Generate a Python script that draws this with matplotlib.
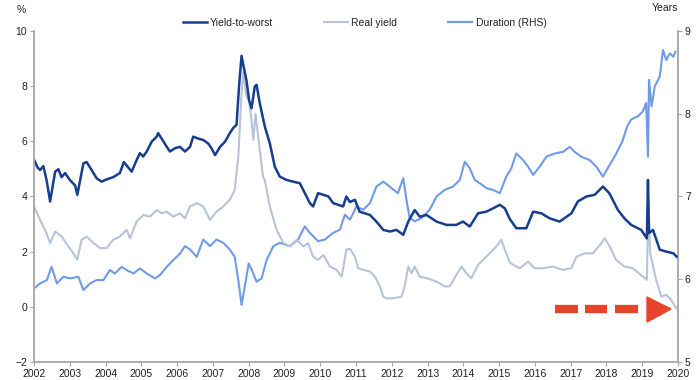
import matplotlib
matplotlib.use("Agg")
import matplotlib.pyplot as plt
from matplotlib.patches import Polygon

plt.rcParams['font.family'] = ['Liberation Sans', 'DejaVu Sans']

# Yield-to-worst (%, LHS)
ytw_t = [2002.0, 2002.1, 2002.17, 2002.26, 2002.35, 2002.45, 2002.59, 2002.68, 2002.77, 2002.87,
         2003.0, 2003.15, 2003.21, 2003.38, 2003.47, 2003.61, 2003.75, 2003.89, 2004.03, 2004.21,
         2004.4, 2004.51, 2004.63, 2004.73, 2004.87, 2004.96, 2005.05, 2005.15, 2005.29, 2005.43,
         2005.47, 2005.62, 2005.71, 2005.8, 2005.94, 2006.08, 2006.22, 2006.36, 2006.45, 2006.59,
         2006.73, 2006.87, 2006.96, 2007.06, 2007.2, 2007.34, 2007.47, 2007.56, 2007.66, 2007.73,
         2007.8, 2007.86, 2007.94, 2008.01, 2008.08, 2008.17, 2008.22, 2008.31, 2008.45, 2008.59,
         2008.73, 2008.87, 2009.06, 2009.24, 2009.43, 2009.57, 2009.71, 2009.8, 2009.94, 2010.09,
         2010.23, 2010.36, 2010.5, 2010.64, 2010.73, 2010.83, 2010.97, 2011.1, 2011.39, 2011.57,
         2011.76, 2011.95, 2012.13, 2012.32, 2012.46, 2012.64, 2012.78, 2012.97, 2013.25, 2013.53,
         2013.8, 2013.99, 2014.18, 2014.41, 2014.64, 2014.83, 2015.02, 2015.16, 2015.3, 2015.48,
         2015.76, 2015.95, 2016.18, 2016.41, 2016.69, 2017.02, 2017.2, 2017.44, 2017.67, 2017.9,
         2018.08, 2018.32, 2018.5, 2018.69, 2018.97, 2019.13, 2019.16, 2019.19, 2019.3, 2019.49,
         2019.68, 2019.87, 2019.96]
ytw = [5.33, 5.05, 4.96, 5.1, 4.6, 3.82, 4.9, 4.99, 4.7, 4.85,
       4.6, 4.4, 4.06, 5.2, 5.25, 4.96, 4.66, 4.54, 4.62, 4.7,
       4.85, 5.25, 5.06, 4.9, 5.33, 5.57, 5.45, 5.63, 5.99, 6.17,
       6.3, 5.99, 5.8, 5.63, 5.75, 5.8, 5.63, 5.8, 6.17, 6.1,
       6.05, 5.92, 5.75, 5.5, 5.8, 5.99, 6.29, 6.47, 6.6, 7.99,
       9.1, 8.7, 8.2, 7.5, 7.2, 7.99, 8.05, 7.38, 6.54, 5.93,
       5.08, 4.72, 4.6, 4.54, 4.48, 4.12, 3.76, 3.64, 4.12, 4.06,
       4.0, 3.76, 3.7, 3.64, 4.0, 3.8, 3.88, 3.45, 3.33, 3.09,
       2.79, 2.73, 2.79, 2.61, 3.09, 3.51, 3.27, 3.33, 3.09, 2.97,
       2.97, 3.09, 2.91, 3.39, 3.45, 3.57, 3.7, 3.57, 3.18, 2.85,
       2.85, 3.45, 3.39, 3.21, 3.09, 3.39, 3.82, 4.0, 4.06, 4.36,
       4.12, 3.51, 3.21, 2.97, 2.79, 2.48, 4.6, 2.67, 2.79, 2.07,
       2.0, 1.94, 1.82]

# Real yield (%, LHS)
ry_t = [2002.0, 2002.17, 2002.31, 2002.45, 2002.59, 2002.77, 2002.96, 2003.1, 2003.21, 2003.33,
        2003.47, 2003.66, 2003.85, 2004.03, 2004.21, 2004.4, 2004.59, 2004.68, 2004.87, 2005.06,
        2005.24, 2005.43, 2005.57, 2005.71, 2005.89, 2006.08, 2006.22, 2006.36, 2006.55, 2006.73,
        2006.92, 2007.1, 2007.29, 2007.47, 2007.61, 2007.71, 2007.8, 2007.85, 2007.94, 2008.0,
        2008.06, 2008.13, 2008.19, 2008.31, 2008.4, 2008.45, 2008.59, 2008.78, 2008.97, 2009.15,
        2009.34, 2009.53, 2009.66, 2009.8, 2009.94, 2010.09, 2010.27, 2010.46, 2010.6, 2010.73,
        2010.83, 2010.97, 2011.06, 2011.2, 2011.39, 2011.53, 2011.67, 2011.76, 2011.85, 2012.04,
        2012.27, 2012.36, 2012.46, 2012.55, 2012.64, 2012.78, 2013.01, 2013.25, 2013.48, 2013.62,
        2013.8, 2013.95, 2014.08, 2014.22, 2014.41, 2014.55, 2014.74, 2014.92, 2015.06, 2015.16,
        2015.3, 2015.48, 2015.58, 2015.81, 2015.99, 2016.22, 2016.5, 2016.78, 2017.02, 2017.16,
        2017.39, 2017.62, 2017.86, 2017.95, 2018.09, 2018.27, 2018.5, 2018.73, 2018.97, 2019.13,
        2019.17, 2019.22, 2019.39, 2019.53, 2019.67, 2019.81, 2019.95]
ry = [3.64, 3.15, 2.79, 2.31, 2.73, 2.55, 2.19, 1.94, 1.7, 2.43,
      2.55, 2.31, 2.13, 2.13, 2.43, 2.55, 2.79, 2.49, 3.09, 3.33,
      3.27, 3.51, 3.39, 3.45, 3.27, 3.39, 3.21, 3.64, 3.76, 3.64,
      3.15, 3.45, 3.64, 3.88, 4.24, 5.45, 7.74, 8.5, 7.62, 7.5,
      7.0, 6.05, 7.0, 5.69, 4.72, 4.6, 3.64, 2.79, 2.31, 2.19,
      2.43, 2.19, 2.31, 1.82, 1.7, 1.88, 1.46, 1.34, 1.09, 2.07,
      2.1, 1.82, 1.4, 1.34, 1.28, 1.09, 0.74, 0.37, 0.31, 0.31,
      0.37, 0.74, 1.46, 1.22, 1.46, 1.09, 1.03, 0.91, 0.74, 0.74,
      1.15, 1.46, 1.22, 1.03, 1.52, 1.7, 1.94, 2.19, 2.43, 2.07,
      1.6, 1.46, 1.4, 1.64, 1.4, 1.4, 1.46, 1.34, 1.4, 1.82,
      1.94, 1.94, 2.31, 2.49, 2.19, 1.7, 1.46, 1.4, 1.15, 0.98,
      3.88, 1.94, 0.97, 0.37, 0.43, 0.25, -0.05]

# Duration (years, RHS)
dur_t = [2002.0, 2002.17, 2002.36, 2002.49, 2002.64, 2002.82, 2003.0, 2003.24, 2003.38, 2003.57,
         2003.75, 2003.94, 2004.12, 2004.26, 2004.45, 2004.59, 2004.78, 2004.96, 2005.15, 2005.38,
         2005.52, 2005.71, 2005.89, 2006.08, 2006.22, 2006.36, 2006.55, 2006.73, 2006.92, 2007.1,
         2007.29, 2007.47, 2007.61, 2007.71, 2007.8, 2007.89, 2008.0, 2008.09, 2008.22, 2008.36,
         2008.5, 2008.69, 2008.87, 2009.15, 2009.38, 2009.57, 2009.71, 2009.94, 2010.13, 2010.36,
         2010.55, 2010.69, 2010.83, 2010.97, 2011.01, 2011.2, 2011.39, 2011.57, 2011.76, 2011.94,
         2012.17, 2012.32, 2012.41, 2012.5, 2012.64, 2012.83, 2013.06, 2013.25, 2013.48, 2013.71,
         2013.9, 2014.04, 2014.18, 2014.32, 2014.46, 2014.65, 2014.83, 2015.02, 2015.2, 2015.34,
         2015.48, 2015.67, 2015.81, 2015.95, 2016.13, 2016.32, 2016.55, 2016.79, 2016.97, 2017.11,
         2017.3, 2017.53, 2017.72, 2017.9, 2018.06, 2018.25, 2018.44, 2018.58, 2018.69, 2018.88,
         2019.02, 2019.11, 2019.16, 2019.19, 2019.26, 2019.35, 2019.49, 2019.58, 2019.67, 2019.77,
         2019.87, 2019.93]
dur = [5.89, 5.95, 5.99, 6.15, 5.95, 6.03, 6.01, 6.03, 5.87, 5.95,
       5.99, 5.99, 6.11, 6.07, 6.15, 6.11, 6.07, 6.13, 6.07, 6.01,
       6.05, 6.15, 6.23, 6.31, 6.40, 6.36, 6.27, 6.48, 6.40, 6.48,
       6.44, 6.36, 6.27, 5.99, 5.69, 5.91, 6.19, 6.11, 5.97, 6.01,
       6.23, 6.40, 6.44, 6.40, 6.48, 6.64, 6.56, 6.46, 6.48, 6.56,
       6.60, 6.78, 6.72, 6.84, 6.88, 6.84, 6.92, 7.12, 7.18, 7.12,
       7.04, 7.22, 6.96, 6.74, 6.70, 6.74, 6.84, 7.00, 7.08, 7.12,
       7.20, 7.42, 7.34, 7.20, 7.16, 7.10, 7.08, 7.04, 7.24, 7.34,
       7.52, 7.44, 7.36, 7.26, 7.36, 7.48, 7.52, 7.54, 7.60, 7.54,
       7.48, 7.44, 7.36, 7.24, 7.36, 7.50, 7.66, 7.85, 7.93, 7.97,
       8.03, 8.13, 7.48, 8.41, 8.09, 8.33, 8.45, 8.77, 8.65, 8.73,
       8.69, 8.75]

years = list(range(2002, 2021))
labels = ["Yield-to-worst", "Real yield", "Duration (RHS)"]
colors = ["#163e8c", "#b8c3da", "#6f9be6"]
axis_grey = "#a6a6a6"

fig = plt.figure(figsize=(7.0, 3.8), dpi=100)
ax = fig.add_axes([0.0486, 0.0474, 0.92, 0.871])
ax2 = ax.twinx()

l2, = ax.plot(ry_t, ry, color=colors[1], lw=1.5, label=labels[1])
l1, = ax.plot(ytw_t, ytw, color=colors[0], lw=1.8, label=labels[0])
l3, = ax2.plot(dur_t, dur, color=colors[2], lw=1.5, label=labels[2])
ax.set_zorder(ax2.get_zorder() + 1)
ax.patch.set_visible(False)

ax.set_xlim(2002, 2020)
ax.set_ylim(-2, 10)
ax.set_yticks(range(-2, 11, 2))
ax2.set_ylim(5, 9)
ax2.set_yticks(range(5, 10))
ax.set_xticks(years)
ax.set_xticklabels([str(y) for y in years])

for a in (ax, ax2):
    for s in a.spines.values():
        s.set_color(axis_grey)
        s.set_linewidth(1.3)
    a.spines['top'].set_visible(False)
    a.tick_params(colors=axis_grey, labelcolor="#222222", labelsize=7.5,
                  length=3, width=0.8, pad=2)
ax.spines['right'].set_visible(False)
ax2.spines['left'].set_visible(False)
ax2.spines['bottom'].set_visible(False)

fig.text(17 / 700, 1 - 10 / 380, "%", fontsize=7.5, color="#222222", ha="left", va="center")
fig.text(665 / 700, 1 - 8 / 380, "Years", fontsize=7.5, color="#222222", ha="center", va="center")

fig.legend([l1, l2, l3], labels, loc="center", bbox_to_anchor=(0.521, 1 - 23 / 380),
           ncol=3, frameon=False, fontsize=7.5, handlelength=2.3, handletextpad=0.3,
           columnspacing=4.9, labelcolor="#222222")

# red dashed arrow annotation (axes fraction)
red = "#e8432b"
y_arr = (362 - 309) / 331
for x0, x1 in [(555, 578), (585, 607), (615, 638)]:
    ax.plot([(x0 - 34) / 644, (x1 - 34) / 644], [y_arr, y_arr], transform=ax.transAxes,
            color=red, lw=6, solid_capstyle="butt", clip_on=False, zorder=5)
tri = Polygon([[(647 - 34) / 644, (362 - 297) / 331],
               [(647 - 34) / 644, (362 - 322) / 331],
               [(671 - 34) / 644, y_arr]],
              closed=True, transform=ax.transAxes, color=red, zorder=5, clip_on=False)
ax.add_patch(tri)

fig.savefig("out.png", dpi=100)
